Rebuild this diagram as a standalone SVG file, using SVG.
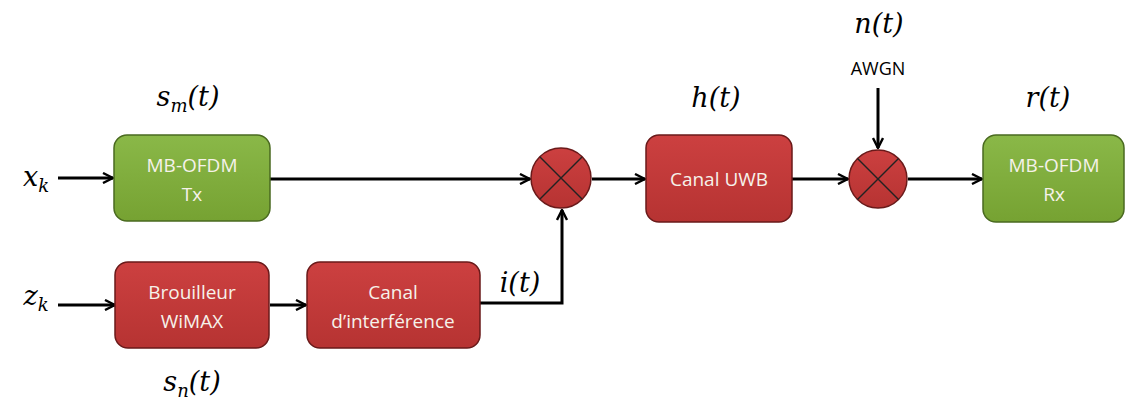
<svg xmlns="http://www.w3.org/2000/svg" width="1126" height="404" viewBox="0 0 1126 404">
<defs>
<linearGradient id="gg" x1="0" y1="0" x2="0" y2="1"><stop offset="0" stop-color="#8ab848"/><stop offset="1" stop-color="#76a232"/></linearGradient>
<linearGradient id="rg" x1="0" y1="0" x2="0" y2="1"><stop offset="0" stop-color="#cc4040"/><stop offset="1" stop-color="#b63332"/></linearGradient>
<marker id="ah" viewBox="0 0 12 12" refX="11" refY="6" markerWidth="12" markerHeight="12" markerUnits="userSpaceOnUse" orient="auto"><path d="M1,1 L11,6 L1,11" fill="none" stroke="#000" stroke-width="2.4"/></marker>
</defs>
<style>
.g{fill:url(#gg);stroke:#4a6a20;stroke-width:1.5}
.r{fill:url(#rg);stroke:#6a1a1a;stroke-width:1.5}
.bt{font-family:"Open Sans","Liberation Sans",sans-serif;font-size:19px;fill:#f6f2ea;text-anchor:middle}
.m{font-family:"DejaVu Serif","Liberation Serif",serif;font-style:italic;font-size:27px;fill:#000;text-anchor:middle}
.aw{font-family:"Open Sans","Liberation Sans",sans-serif;font-size:18px;fill:#000;text-anchor:middle}
.c{stroke:#000;stroke-width:3;fill:none}
.x{stroke:#222;stroke-width:1.5}
</style>
<rect width="1126" height="404" fill="#fff"/>
<g id="connectors">
<line class="c" x1="58" y1="178" x2="113" y2="178" marker-end="url(#ah)"/>
<line class="c" x1="270" y1="179" x2="530" y2="179" marker-end="url(#ah)"/>
<line class="c" x1="58" y1="305" x2="115" y2="305" marker-end="url(#ah)"/>
<line class="c" x1="270" y1="305" x2="306" y2="305" marker-end="url(#ah)"/>
<polyline class="c" points="480,303 562,303 562,210" marker-end="url(#ah)"/>
<line class="c" x1="592" y1="179" x2="645" y2="179" marker-end="url(#ah)"/>
<line class="c" x1="792" y1="179" x2="848" y2="179" marker-end="url(#ah)"/>
<line class="c" x1="908" y1="179" x2="982" y2="179" marker-end="url(#ah)"/>
<line class="c" x1="878" y1="88" x2="878" y2="148" marker-end="url(#ah)"/>
</g>
<g id="tx"><rect class="g" x="114" y="135" width="156" height="86" rx="13"/><text class="bt" x="192" y="172">MB-OFDM</text><text class="bt" x="192" y="201">Tx</text></g>
<g id="brouilleur"><rect class="r" x="115" y="262" width="154" height="86" rx="13"/><text class="bt" x="192" y="299">Brouilleur</text><text class="bt" x="192" y="328">WiMAX</text></g>
<g id="canalint"><rect class="r" x="307" y="262" width="173" height="86" rx="13"/><text class="bt" x="393" y="299">Canal</text><text class="bt" x="393" y="328">d’interférence</text></g>
<g id="mult1"><circle class="r" cx="561" cy="178" r="30" stroke="#222"/><line class="x" x1="540" y1="157" x2="582" y2="199"/><line class="x" x1="582" y1="157" x2="540" y2="199"/></g>
<g id="uwb"><rect class="r" x="646" y="135" width="146" height="87" rx="13"/><text class="bt" x="719" y="186">Canal UWB</text></g>
<g id="mult2"><circle class="r" cx="878" cy="179" r="29" stroke="#222"/><line class="x" x1="857.5" y1="158.5" x2="898.5" y2="199.5"/><line class="x" x1="898.5" y1="158.5" x2="857.5" y2="199.5"/></g>
<g id="rx"><rect class="g" x="983" y="135" width="141" height="87" rx="13"/><text class="bt" x="1054" y="172">MB-OFDM</text><text class="bt" x="1054" y="201">Rx</text></g>
<g id="labels">
<text class="m" x="188" y="106">s<tspan font-size="18" dy="6">m</tspan><tspan dy="-6">(t)</tspan></text>
<text class="m" x="36" y="186">x<tspan font-size="18" dy="6">k</tspan></text>
<text class="m" x="36" y="305">z<tspan font-size="18" dy="6">k</tspan></text>
<text class="m" x="192" y="391">s<tspan font-size="18" dy="6">n</tspan><tspan dy="-6">(t)</tspan></text>
<text class="m" x="520" y="292">i(t)</text>
<text class="m" x="716" y="107">h(t)</text>
<text class="m" x="879" y="33">n(t)</text>
<text class="aw" x="878" y="75">AWGN</text>
<text class="m" x="1048" y="107">r(t)</text>
</g>
</svg>
